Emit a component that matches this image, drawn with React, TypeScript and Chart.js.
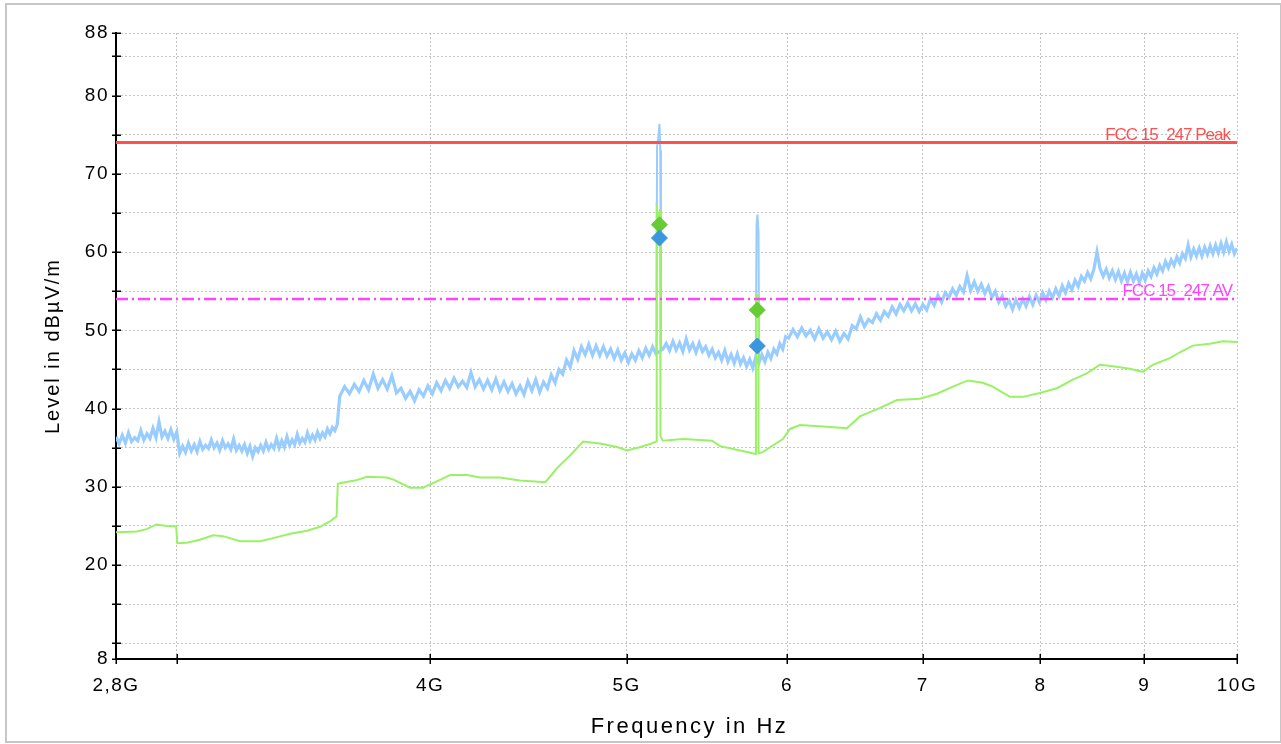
import React, { useEffect, useRef } from 'react';
import { Chart, registerables } from 'chart.js';

Chart.register(...registerables);

// ---------------- data ----------------
const xMin = 2.8;
const xMax = 10;
const yMin = 8;
const yMax = 88;
const xTickValues = [2.8, 3, 4, 5, 6, 7, 8, 9, 10];
const xTickLabels = ['2,8G', '', '4G', '5G', '6', '7', '8', '9', '10G'];
const yTickValues = [8, 10, 15, 20, 25, 30, 35, 40, 45, 50, 55, 60, 65, 70, 75, 80, 85, 88];
const yTickLabels = ['8', '', '', '20', '', '30', '', '40', '', '50', '', '60', '', '70', '', '80', '', '88'];

const xAxisTitle = 'Frequency in Hz';
const yAxisTitle = 'Level in dBµV/m';
const peakLimitName = 'FCC 15_247 Peak';
const avLimitName = 'FCC 15_247 AV';
const peakLimit = 74;
const avLimit = 54;

// Peak (blue) sweep in three segments (start GHz, step GHz, dBµV/m)
const peakStartA = 2.8;
const peakStepA = 0.01;
const peakA = [
  36.4, 35.5, 36.6, 35.6, 36.9, 35.8, 36.3, 35.9, 37.2, 36.0,
  36.8, 36.2, 37.5, 36.3, 38.3, 36.4, 37.1, 36.2, 37.3, 36.1,
  37.0, 34.3, 35.2, 34.4, 35.6, 34.6, 35.4, 34.5, 35.8, 34.8,
  35.3, 34.9, 36.0, 35.0, 35.6, 34.7, 35.9, 35.0, 35.5, 34.8,
  36.1, 34.7, 35.3, 34.6, 35.4, 34.3, 35.2, 33.9, 35.0, 34.5,
  35.3, 34.6, 35.7, 34.8, 35.4, 34.9, 36.2, 35.0, 35.9, 35.1,
  36.4, 35.3, 36.0, 35.4, 36.7, 35.6, 36.2, 35.7, 36.9, 35.9,
  36.6, 36.0, 37.0, 36.2, 36.9, 36.4, 37.4, 36.8, 37.6, 37.2,
  38.0,
];
const peakStartB = 3.61;
const peakStepB = 0.02;
const peakB = [
  41.6, 42.8, 41.9, 43.1, 42.2, 43.6, 42.4, 44.4, 42.6, 43.7,
  42.5, 44.2, 42.0, 42.6, 41.3, 42.2, 41.0, 42.4, 41.6, 42.9,
  41.9, 43.3, 42.3, 43.6, 42.6, 43.9, 42.8, 43.5, 42.7, 44.6,
  42.8, 43.7, 42.5, 43.6, 42.4, 43.8, 42.3, 43.4, 42.2, 43.2,
  41.9, 42.9, 41.8, 43.5, 42.3, 43.7, 42.1, 43.4, 42.6, 44.3,
  43.3, 45.0, 44.4, 46.2, 45.3, 47.4, 46.3, 47.9, 46.9, 48.2,
  46.8, 48.0, 46.8, 47.9, 46.7, 47.6, 46.4, 47.5, 46.2, 47.1,
  45.9, 47.0, 46.2, 47.4, 46.5, 47.7, 46.8, 47.9, 47.0, 47.3,
  47.6, 48.3, 47.4, 48.6, 47.5, 48.4, 47.3, 48.9, 47.5, 48.3,
  47.2, 48.4, 47.3, 47.9, 46.8, 47.6, 46.5, 47.2, 46.2, 47.4,
  46.0, 46.9, 45.8, 47.0, 45.7, 46.5, 45.4, 46.3, 45.2, 46.6,
  45.8, 46.9, 46.0, 47.2, 46.4, 47.6, 47.0, 48.3, 47.6, 49.2,
];
const peakStartC = 6.01;
const peakStepC = 0.03;
const peakC = [
  49.0, 50.1, 49.2, 50.3, 49.3, 50.0, 48.9, 50.2, 49.0, 49.8,
  48.8, 49.9, 48.6, 49.6, 48.9, 50.6, 50.2, 51.7, 50.5, 51.4,
  51.0, 52.1, 51.3, 52.4, 51.8, 53.0, 52.1, 53.3, 52.5, 53.5,
  52.5, 53.4, 52.4, 53.3, 52.6, 54.0, 53.2, 54.5, 53.6, 54.8,
  54.2, 55.3, 54.5, 55.6, 54.9, 57.0, 55.1, 56.2, 55.0, 55.9,
  54.7, 55.6, 54.2, 55.0, 53.6, 54.4, 53.1, 53.8, 52.7, 53.9,
  52.9, 54.0, 53.1, 54.3, 53.3, 54.5, 53.6, 54.8, 53.9, 55.0,
  54.2, 55.3, 54.4, 55.7, 54.8, 56.0, 55.2, 56.4, 55.6, 56.9,
  56.3, 57.4, 56.6, 57.8, 60.0, 57.9, 56.9, 57.8, 56.7, 57.6,
  56.5, 57.5, 56.3, 57.3, 56.2, 57.4, 56.3, 57.2, 56.1, 57.3,
  56.4, 57.6, 56.9, 58.0, 57.2, 58.3, 57.6, 58.8, 58.0, 59.0,
  58.3, 59.4, 58.6, 59.8, 59.2, 60.9, 59.4, 60.4, 59.5, 60.5,
  59.5, 60.6, 59.7, 60.8, 59.8, 60.9, 59.9, 61.1, 60.0, 61.3,
  60.1, 61.0, 59.8, 60.5,
];

// narrow carrier spikes in the peak trace
const spike1Freq = [5.172, 5.176, 5.183, 5.19, 5.195, 5.199];
const spike1Peak = [47.0, 73.5, 74.5, 76.4, 73.0, 47.5];
const spike2Freq = [5.79, 5.795, 5.801, 5.808, 5.812];
const spike2Peak = [46.0, 63.5, 64.8, 62.5, 46.2];

// Average (green) trace
const avgFreq = [
  2.8, 2.867, 2.899, 2.932, 2.966, 2.998, 3.002, 3.034, 3.08, 3.126,
  3.162, 3.224, 3.298, 3.347, 3.412, 3.478, 3.53, 3.57, 3.597, 3.602,
  3.613, 3.673, 3.723, 3.809, 3.84, 3.91, 3.968, 4.045, 4.092, 4.172,
  4.233, 4.33, 4.43, 4.56, 4.62, 4.689, 4.759, 4.851, 4.946, 5.002,
  5.08, 5.152, 5.172, 5.174, 5.18, 5.186, 5.194, 5.196, 5.21, 5.33,
  5.51, 5.56, 5.733, 5.788, 5.791, 5.806, 5.808, 5.832, 5.971, 6.019,
  6.088, 6.25, 6.421, 6.517, 6.667, 6.797, 6.976, 7.113, 7.243, 7.367,
  7.493, 7.578, 7.726, 7.841, 7.994, 8.15, 8.299, 8.432, 8.558, 8.685,
  8.854, 8.986, 9.088, 9.266, 9.372, 9.511, 9.696, 9.84, 10.0,
];
const avgLevel = [
  24.2, 24.3, 24.6, 25.2, 25.0, 24.95, 22.8, 22.85, 23.25, 23.8,
  23.7, 23.05, 23.05, 23.45, 24.0, 24.4, 24.9, 25.6, 26.2, 30.4,
  30.5, 30.8, 31.3, 31.2, 30.9, 29.9, 29.9, 30.9, 31.5, 31.5,
  31.2, 31.2, 30.8, 30.6, 32.4, 34.0, 35.8, 35.55, 35.1, 34.65,
  35.1, 35.6, 35.8, 65.5, 65.0, 63.6, 65.5, 36.5, 35.9, 36.1,
  35.9, 35.2, 34.45, 34.2, 54.5, 54.5, 34.3, 34.4, 36.1, 37.4,
  37.9, 37.7, 37.5, 39.0, 40.1, 41.1, 41.25, 41.9, 42.8, 43.6,
  43.3, 42.8, 41.5, 41.5, 42.0, 42.6, 43.7, 44.5, 45.6, 45.4,
  45.1, 44.7, 45.6, 46.45, 47.2, 48.05, 48.3, 48.6, 48.5,
];

// markers
const markerFreq = [5.19, 5.8];
const markerPeak = [61.8, 48.0];
const markerAvg = [63.5, 52.6];

// ---------------- helpers ----------------
const sweep = (start: number, step: number, vals: number[]) =>
  vals.map((y, i) => ({ x: Math.round((start + i * step) * 1000) / 1000, y }));
const pairs = (xs: number[], ys: number[]) => xs.map((x, i) => ({ x, y: ys[i] }));

const FONT = '"Liberation Sans", Arial, Helvetica, sans-serif';

const decorPlugin = {
  id: 'decor',
  beforeDraw(chart: any) {
    const ctx = chart.ctx;
    ctx.save();
    ctx.fillStyle = '#ffffff';
    ctx.fillRect(0, 0, chart.width, chart.height);
    ctx.strokeStyle = '#c6c6c6';
    ctx.lineWidth = 2;
    ctx.strokeRect(6, 4, chart.width - 6, chart.height - 6);
    ctx.restore();
    ctx.letterSpacing = '1.5px';
  },
  beforeDatasetsDraw(chart: any) {
    chart.ctx.letterSpacing = '0px';
  },
  afterDatasetsDraw(chart: any) {
    const ctx = chart.ctx;
    const xs = chart.scales.x;
    const ys = chart.scales.y;
    const right = xs.getPixelForValue(xMax);
    ctx.save();
    ctx.font = `17px ${FONT}`;
    ctx.letterSpacing = '-1px';
    ctx.textAlign = 'right';
    ctx.textBaseline = 'alphabetic';
    ctx.fillStyle = '#ff4f4f';
    ctx.fillText(peakLimitName, right - 7, ys.getPixelForValue(peakLimit) - 3);
    ctx.fillStyle = '#ff44ff';
    ctx.fillText(avLimitName, right - 5, ys.getPixelForValue(avLimit) - 3);
    ctx.restore();
  },
  afterDraw(chart: any) {
    const ctx = chart.ctx;
    const xs = chart.scales.x;
    const ys = chart.scales.y;
    const { left, bottom, top, right } = chart.chartArea;
    ctx.save();
    ctx.strokeStyle = '#000';
    ctx.lineWidth = 1.5;
    ctx.beginPath();
    yTickValues.forEach((v) => {
      const p = Math.round(ys.getPixelForValue(v)) + 0.25;
      ctx.moveTo(left - 4, p);
      ctx.lineTo(left + 5, p);
    });
    xTickValues.forEach((v) => {
      const p = Math.round(xs.getPixelForValue(v)) + 0.25;
      ctx.moveTo(p, bottom - 5);
      ctx.lineTo(p, bottom + 5);
    });
    ctx.stroke();

    ctx.fillStyle = '#000';
    ctx.font = `22px ${FONT}`;
    ctx.letterSpacing = '2.5px';
    ctx.textAlign = 'center';
    ctx.textBaseline = 'alphabetic';
    ctx.fillText(xAxisTitle, (left + right) / 2 + 13, 733);

    ctx.translate(59, (top + bottom) / 2);
    ctx.rotate(-Math.PI / 2);
    ctx.font = `20px ${FONT}`;
    ctx.letterSpacing = '2px';
    ctx.fillText(yAxisTitle, 0, 0);
    ctx.restore();
  },
};

export default function App() {
  const ref = useRef<HTMLCanvasElement | null>(null);

  useEffect(() => {
    if (!ref.current) return;
    Chart.defaults.font.family = FONT;
    const peakData = [
      ...sweep(peakStartA, peakStepA, peakA),
      ...sweep(peakStartB, peakStepB, peakB),
      ...sweep(peakStartC, peakStepC, peakC),
    ];
    const line = (extra: any) => ({
      showLine: true,
      pointRadius: 0,
      pointHoverRadius: 0,
      tension: 0,
      fill: false,
      ...extra,
    });
    const chart = new Chart(ref.current, {
      type: 'scatter',
      data: {
        datasets: [
          {
            label: 'Peak markers',
            data: pairs(markerFreq, markerPeak),
            showLine: false,
            pointStyle: 'rectRot',
            pointRadius: 8,
            backgroundColor: '#3a96dd',
            borderColor: '#3a96dd',
            borderWidth: 1,
            order: 0,
          },
          {
            label: 'Average markers',
            data: pairs(markerFreq, markerAvg),
            showLine: false,
            pointStyle: 'rectRot',
            pointRadius: 8,
            backgroundColor: '#66cc33',
            borderColor: '#66cc33',
            borderWidth: 1,
            order: 1,
          },
          line({
            label: peakLimitName,
            data: pairs([xMin, xMax], [peakLimit, peakLimit]),
            borderColor: '#ff4f4f',
            borderWidth: 3,
            order: 2,
          }),
          line({
            label: avLimitName,
            data: pairs([xMin, xMax], [avLimit, avLimit]),
            borderColor: '#ff44ff',
            borderWidth: 2.5,
            borderDash: [12, 4, 2, 4],
            order: 3,
          }),
          line({
            label: 'Average',
            data: pairs(avgFreq, avgLevel),
            borderColor: '#99f266',
            borderWidth: 2,
            order: 4,
          }),
          line({
            label: 'Peak spike 1',
            data: pairs(spike1Freq, spike1Peak),
            borderColor: '#99ccff',
            borderWidth: 2,
            order: 5,
          }),
          line({
            label: 'Peak spike 2',
            data: pairs(spike2Freq, spike2Peak),
            borderColor: '#99ccff',
            borderWidth: 2,
            order: 5,
          }),
          line({
            label: 'Peak',
            data: peakData,
            borderColor: '#99ccff',
            borderWidth: 3.2,
            order: 6,
          }),
        ],
      },
      options: {
        responsive: false,
        animation: false,
        events: [],
        layout: { padding: { top: 33, right: 44, left: 0, bottom: 0 } },
        plugins: {
          legend: { display: false },
          tooltip: { enabled: false },
          title: { display: false },
        },
        scales: {
          x: {
            type: 'logarithmic',
            min: xMin,
            max: xMax,
            afterBuildTicks: (scale: any) => {
              scale.ticks = xTickValues.map((value) => ({ value }));
            },
            afterFit: (scale: any) => {
              scale.height = 85;
            },
            ticks: {
              autoSkip: false,
              maxRotation: 0,
              minRotation: 0,
              padding: 15,
              color: '#000',
              font: { size: 19 },
              callback: (_v: any, i: number) => xTickLabels[i],
            },
            grid: { color: '#c4c4c4', lineWidth: 1, drawTicks: false },
            border: { display: true, color: '#000', width: 2, dash: [2, 2] },
          },
          y: {
            type: 'linear',
            min: yMin,
            max: yMax,
            afterBuildTicks: (scale: any) => {
              scale.ticks = yTickValues.map((value) => ({ value }));
            },
            afterFit: (scale: any) => {
              scale.width = 116;
            },
            ticks: {
              autoSkip: false,
              padding: 7,
              color: '#000',
              font: { size: 19 },
              callback: (_v: any, i: number) => yTickLabels[i],
            },
            grid: { color: '#c4c4c4', lineWidth: 1, drawTicks: false },
            border: { display: true, color: '#000', width: 2, dash: [2, 2] },
          },
        },
      },
      plugins: [decorPlugin],
    } as any);
    return () => chart.destroy();
  }, []);

  return (
    <div style={{ position: 'absolute', left: 0, top: 0, width: 1281, height: 744, background: '#fff' }}>
      <canvas ref={ref} width={1281} height={744} style={{ display: 'block', width: 1281, height: 744 }} />
    </div>
  );
}
